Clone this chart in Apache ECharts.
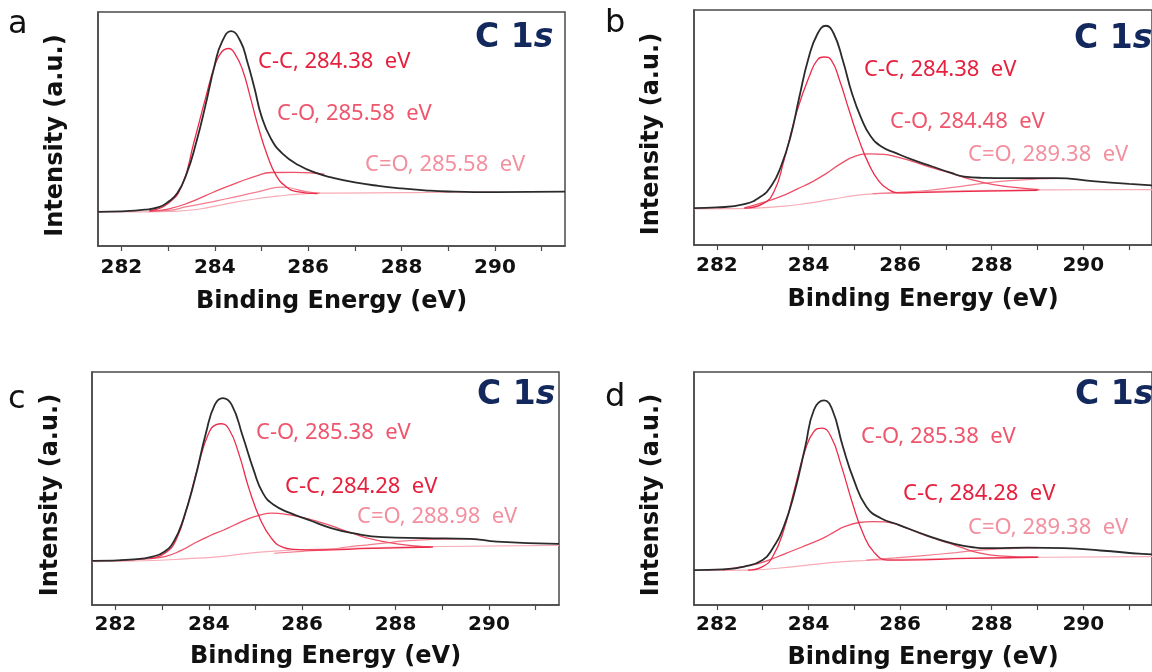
<!DOCTYPE html>
<html>
<head>
<meta charset="utf-8">
<title>C 1s XPS</title>
<script src="https://cdn.jsdelivr.net/npm/echarts@6.0.0/dist/echarts.min.js"></script>
<style>
  html, body { margin: 0; padding: 0; background: #fff; }
  #chart { width: 1152px; height: 672px; }
</style>
</head>
<body>
<div id="chart"></div>
<script>
// axis ticks and labels (binding energy, eV)
const xTicks = [282, 283, 284, 285, 286, 287, 288, 289, 290, 291];
const xLabels = [282, 284, 286, 288, 290];

// panel a  -> [eV, intensity a.u.]
const aEnvelope = [[281.5,14.6],[282.0,14.8],[282.5,15.5],[282.8,16.6],[283.0,18.8],[283.2,22.6],[283.4,31.0],[283.6,44.0],[283.8,60.0],[284.0,77.5],[284.15,87.0],[284.35,91.8],[284.55,87.5],[284.7,78.5],[284.85,67.5],[285.0,55.5],[285.2,46.0],[285.45,39.5],[285.8,34.5],[286.2,31.0],[286.5,29.3],[287.0,27.2],[287.5,25.7],[288.0,24.6],[288.5,23.8],[289.0,23.3],[290.0,23.0],[291.5,23.2]];
const aCC = [[282.6,15.0],[283.0,18.2],[283.3,26.0],[283.55,44.0],[283.8,63.0],[284.0,77.0],[284.15,83.0],[284.3,84.4],[284.45,81.5],[284.6,75.0],[284.75,64.5],[284.93,51.0],[285.13,38.5],[285.32,30.0],[285.52,25.5],[285.76,23.2],[286.2,22.4]];
const aCO = [[282.6,14.8],[283.0,15.8],[283.45,18.5],[283.8,21.5],[284.15,24.5],[284.5,27.2],[284.9,30.0],[285.2,31.4],[285.7,31.5],[286.1,31.2],[286.35,30.6]];
const aCdO = [[282.6,14.9],[283.0,15.2],[283.4,16.8],[283.8,18.3],[284.25,20.2],[284.9,23.0],[285.45,25.2],[285.6,24.9],[285.95,23.2],[286.25,22.6]];
const aBackground = [[281.5,14.6],[282.5,14.6],[283.1,14.8],[283.65,15.7],[284.25,18.0],[284.9,20.2],[285.35,21.3],[285.8,22.2],[286.5,22.6],[288.0,22.8],[289.5,23.0],[290.0,23.0]];
const aNotes = ['C-C, 284.38  eV', 'C-O, 285.58  eV', 'C=O, 285.58  eV'];

// panel b
const bEnvelope = [[281.5,15.7],[282.0,16.0],[282.6,17.4],[282.95,20.5],[283.2,25.5],[283.4,33.5],[283.6,45.5],[283.8,63.0],[284.0,79.5],[284.2,90.0],[284.38,93.3],[284.55,90.0],[284.75,78.5],[284.95,64.5],[285.15,54.0],[285.35,46.5],[285.6,41.8],[285.9,39.2],[286.25,36.4],[286.7,33.4],[287.1,30.8],[287.4,29.1],[287.8,28.6],[288.4,28.5],[289.4,28.5],[290.2,27.2],[291.0,26.0],[291.5,25.4]];
const bCC = [[282.6,15.7],[283.0,17.5],[283.25,22.9],[283.46,35.7],[283.75,57.1],[284.04,72.9],[284.2,78.9],[284.34,80.0],[284.5,78.6],[284.68,70.0],[284.89,57.1],[285.11,44.3],[285.32,34.3],[285.54,27.1],[285.75,23.6],[285.95,22.2],[286.5,22.4],[287.5,22.8],[289.0,23.3]];
const bCO = [[282.6,15.8],[283.0,18.0],[283.4,20.7],[283.75,23.8],[284.1,27.1],[284.4,30.6],[284.68,34.3],[285.04,37.9],[285.35,38.8],[285.65,38.6],[285.9,37.6],[286.25,35.7],[286.6,33.5],[286.96,31.4],[287.3,29.3],[287.54,27.9],[288.04,25.7],[288.5,24.5],[289.04,23.6]];
const bCdO = [[285.4,21.9],[286.0,22.4],[286.6,23.2],[287.2,24.6],[287.8,26.2],[288.4,27.4],[289.0,28.1],[289.5,28.3]];
const bBackground = [[281.5,15.4],[282.5,15.5],[283.4,16.4],[284.0,17.8],[284.46,19.3],[285.18,21.4],[285.9,22.1],[286.96,22.9],[288.4,23.3],[290.0,23.5],[291.5,23.6]];
const bNotes = ['C-C, 284.38  eV', 'C-O, 284.48  eV', 'C=O, 289.38  eV'];

// panel c
const cEnvelope = [[281.5,18.9],[282.4,19.6],[282.8,20.8],[283.05,22.9],[283.25,27.2],[283.45,36.5],[283.7,53.7],[283.94,73.8],[284.13,86.0],[284.3,88.8],[284.49,86.0],[284.73,72.3],[284.96,58.0],[285.16,48.0],[285.39,43.0],[285.75,39.4],[286.14,36.5],[286.62,33.0],[287.09,30.8],[287.72,29.1],[288.6,28.7],[289.6,28.4],[290.17,27.2],[291.5,26.2]];
const cCC = [[282.75,20.0],[283.06,22.2],[283.3,27.9],[283.54,42.3],[283.77,59.5],[284.0,73.8],[284.16,77.4],[284.27,77.8],[284.44,75.2],[284.64,65.2],[284.87,49.4],[285.11,36.5],[285.34,28.7],[285.58,24.8],[285.82,23.9],[286.3,23.6],[287.5,24.3],[288.8,24.9]];
const cCO = [[282.1,19.1],[282.6,19.7],[283.06,20.8],[283.4,23.3],[283.69,26.5],[284.0,29.5],[284.32,32.2],[284.6,34.8],[284.87,37.2],[285.1,38.6],[285.34,39.4],[285.73,38.7],[286.0,37.6],[286.21,36.5],[286.5,34.8],[286.76,33.0],[287.1,30.6],[287.4,28.7],[288.03,26.2],[288.74,24.8]];
const cCdO = [[285.4,22.2],[286.0,23.0],[286.6,23.9],[287.0,25.0],[287.4,25.8],[287.8,26.7],[288.2,27.5],[288.8,28.2],[289.6,28.4],[289.75,28.3]];
const cBackground = [[281.5,18.6],[282.83,19.1],[283.5,19.8],[284.25,20.8],[285.03,22.6],[285.82,23.6],[287.4,24.5],[288.97,25.1],[291.5,25.6]];
const cNotes = ['C-O, 285.38  eV', 'C-C, 284.28  eV', 'C=O, 288.98  eV'];

// panel d
const dEnvelope = [[281.5,15.0],[282.13,15.3],[282.6,16.5],[283.0,19.3],[283.22,24.4],[283.46,33.7],[283.69,48.0],[283.93,68.0],[284.12,83.8],[284.34,87.8],[284.52,83.8],[284.75,68.0],[284.99,53.7],[285.26,42.3],[285.58,37.2],[285.97,34.4],[286.45,30.8],[286.84,28.2],[287.39,25.4],[288.02,24.4],[288.8,24.6],[289.58,24.4],[290.37,23.4],[291.29,21.9],[291.5,21.7]];
const dCC = [[282.68,15.0],[283.0,16.5],[283.22,20.8],[283.46,32.2],[283.69,49.4],[283.93,66.6],[284.12,74.5],[284.29,75.9],[284.49,72.3],[284.72,59.5],[284.96,43.7],[285.19,30.8],[285.42,22.9],[285.73,19.3],[286.05,19.3],[287.5,20.0],[289.0,20.5]];
const dCO = [[282.13,15.0],[282.5,16.2],[282.92,17.9],[283.3,20.5],[283.69,23.6],[284.0,26.0],[284.32,28.7],[284.55,31.2],[284.8,33.7],[285.11,35.4],[285.4,35.8],[285.66,35.7],[285.9,34.8],[286.05,33.7],[286.3,31.8],[286.52,30.1],[286.8,28.2],[287.07,26.5],[287.35,24.6],[287.61,22.9],[288.16,21.1],[289.02,20.5]];
const dCdO = [[285.26,19.3],[285.9,20.2],[286.45,21.1],[287.22,22.5],[287.6,23.3],[288.02,23.9],[288.5,24.3],[288.8,24.5],[289.0,24.5]];
const dBackground = [[281.5,14.8],[282.68,15.0],[283.69,16.5],[284.48,18.2],[285.26,19.1],[286.05,19.6],[287.61,20.1],[289.18,20.5],[291.5,20.8]];
const dNotes = ['C-O, 285.38  eV', 'C-C, 284.28  eV', 'C=O, 289.38  eV'];

const panelLetters = ['a', 'b', 'c', 'd'];

// colours
const cBlack = '#2b2b2b';
const cRed = '#ec2b4a';
const cRose = '#ee5068';
const cPink = '#f27e91';
const cPale = '#f7abb6';
const tRed = '#e5213e';
const tRose = '#ef566d';
const tPink = '#f3909f';
const navy = '#13285c';
const frame = '#4a4a4a';

const panels = [
  { grid: { left: 98, top: 12, width: 467, height: 234 }, labelMargin: 12, nameGap: 44, yGap: 30,
    env: aEnvelope, cc: aCC, co: aCO, cdo: aCdO, bg: aBackground, notes: aNotes,
    noteColors: [tRed, tRose, tPink], notePos: [[258, 62], [277, 114], [365, 165]],
    letterPos: [8, 25], titlePos: [475, 38] },
  { grid: { left: 694, top: 10, width: 467, height: 235 }, labelMargin: 11, nameGap: 43, yGap: 30,
    env: bEnvelope, cc: bCC, co: bCO, cdo: bCdO, bg: bBackground, notes: bNotes,
    noteColors: [tRed, tRose, tPink], notePos: [[864, 70], [890, 122], [968, 155]],
    letterPos: [605, 24], titlePos: [1074, 39] },
  { grid: { left: 92, top: 372, width: 467, height: 233 }, labelMargin: 10, nameGap: 40, yGap: 29,
    env: cEnvelope, cc: cCC, co: cCO, cdo: cCdO, bg: cBackground, notes: cNotes,
    noteColors: [tRose, tRed, tPink], notePos: [[256, 433], [285, 487], [357, 517]],
    letterPos: [8, 400], titlePos: [477, 395] },
  { grid: { left: 694, top: 372, width: 467, height: 233 }, labelMargin: 10, nameGap: 41, yGap: 30,
    env: dEnvelope, cc: dCC, co: dCO, cdo: dCdO, bg: dBackground, notes: dNotes,
    noteColors: [tRose, tRed, tPink], notePos: [[861, 437], [903, 494], [968, 528]],
    letterPos: [605, 398], titlePos: [1075, 395] }
];

const grid = [], xAxis = [], yAxis = [], series = [], graphic = [];

panels.forEach((p, i) => {
  grid.push(Object.assign({ show: true, borderColor: frame, borderWidth: 1.5 }, p.grid));

  xAxis.push({
    gridIndex: i, type: 'value', min: 281.5, max: 291.5,
    axisLine: { show: true, lineStyle: { color: frame, width: 1.5 } },
    axisTick: { show: true, customValues: xTicks, length: 5, lineStyle: { color: frame, width: 1.2 } },
    axisLabel: { customValues: xLabels, margin: p.labelMargin, color: '#111',
      fontFamily: 'DejaVu Sans', fontWeight: 'bold', fontSize: 20 },
    splitLine: { show: false },
    name: 'Binding Energy (eV)', nameLocation: 'middle', nameGap: p.nameGap,
    nameTextStyle: { color: '#111', fontFamily: 'DejaVu Sans', fontWeight: 'bold', fontSize: 24 }
  });

  yAxis.push({
    gridIndex: i, type: 'value', min: 0, max: 100,
    axisLine: { show: true, lineStyle: { color: frame, width: 1.5 } },
    axisTick: { show: false }, axisLabel: { show: false }, splitLine: { show: false },
    name: 'Intensity (a.u.)', nameLocation: 'middle', nameGap: p.yGap,
    // right padding nudges the rotated name a little lower, as in the figure
    nameTextStyle: { color: '#111', fontFamily: 'DejaVu Sans', fontWeight: 'bold', fontSize: 24,
      padding: [0, 13, 0, 0] }
  });

  const line = (data, color, width, z) => ({
    type: 'line', xAxisIndex: i, yAxisIndex: i, data: data,
    showSymbol: false, smooth: 0.5, silent: true, z: z,
    lineStyle: { color: color, width: width }
  });
  series.push(line(p.bg, cPale, 1.2, 2));
  series.push(line(p.cdo, cPink, 1.2, 3));
  series.push(line(p.co, cRose, 1.3, 4));
  series.push(line(p.cc, cRed, 1.3, 5));
  series.push(line(p.env, cBlack, 1.8, 6));

  // panel letter
  graphic.push({ type: 'text', x: p.letterPos[0], y: p.letterPos[1], silent: true,
    style: { text: panelLetters[i], fill: '#111', fontFamily: 'DejaVu Sans', fontSize: 32,
      align: 'left', verticalAlign: 'middle' } });
  // C 1s title
  graphic.push({ type: 'text', x: p.titlePos[0], y: p.titlePos[1], silent: true, z: 10,
    style: { text: '{n|C 1}{i|s}', align: 'left', verticalAlign: 'middle',
      rich: {
        n: { fill: navy, fontFamily: 'DejaVu Sans', fontWeight: 'bold', fontSize: 33 },
        i: { fill: navy, fontFamily: 'DejaVu Sans', fontWeight: 'bold', fontStyle: 'italic', fontSize: 33 }
      } } });
  // peak annotations
  p.notes.forEach((t, k) => {
    graphic.push({ type: 'text', x: p.notePos[k][0], y: p.notePos[k][1], silent: true, z: 10,
      style: { text: t, fill: p.noteColors[k], fontFamily: 'Noto Sans', fontSize: 22,
        align: 'left', verticalAlign: 'middle' } });
  });
});

const chart = echarts.init(document.getElementById('chart'));
chart.setOption({
  animation: false,
  backgroundColor: '#fff',
  grid: grid,
  xAxis: xAxis,
  yAxis: yAxis,
  series: series,
  graphic: graphic
});
</script>
</body>
</html>
